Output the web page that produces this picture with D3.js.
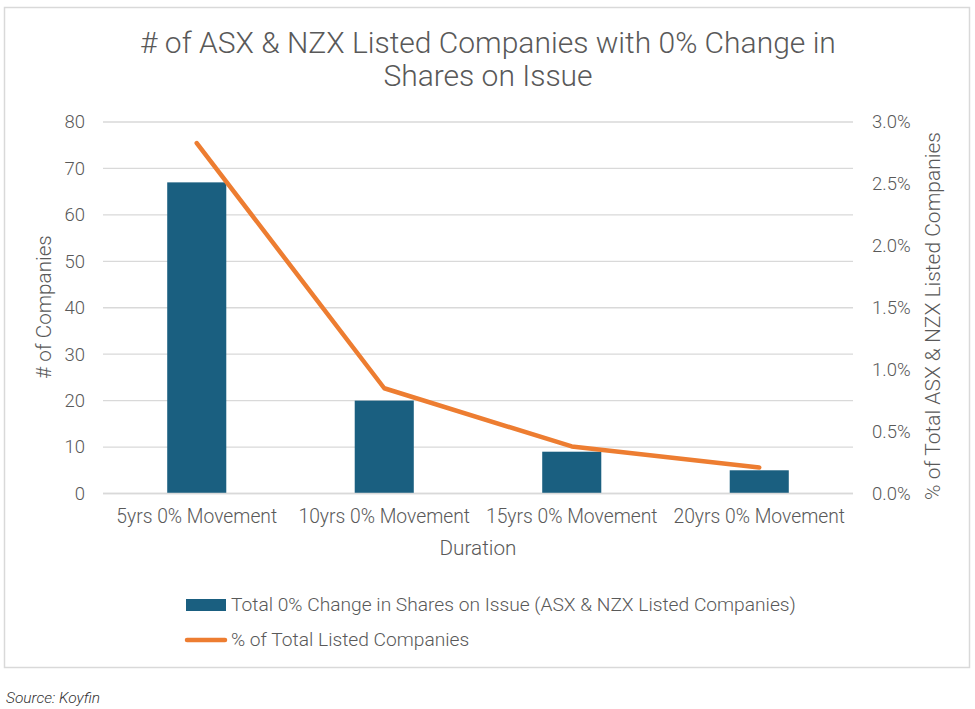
<!DOCTYPE html>
<html><head><meta charset="utf-8">
<script src="https://cdn.jsdelivr.net/npm/d3@7"></script>
<style>body{margin:0;background:#fff}svg{display:block}text{font-family:Roboto,"Open Sans",sans-serif;font-weight:300}</style>
</head><body><svg id="c" width="975" height="709"></svg>
<script>
const categories = ["5yrs 0% Movement","10yrs 0% Movement","15yrs 0% Movement","20yrs 0% Movement"];
const companyCounts = [67, 20, 9, 5];
const pctOfTotal = [0.0283, 0.0085, 0.0038, 0.0021];
const leftTicks = [0,10,20,30,40,50,60,70,80];
const rightTicks = [0,0.005,0.01,0.015,0.02,0.025,0.03];
const titleLines = ["# of ASX & NZX Listed Companies with 0% Change in","Shares on Issue"];
const legendLabels = ["Total 0% Change in Shares on Issue (ASX & NZX Listed Companies)","% of Total Listed Companies"];

const svg = d3.select("#c");
const txt = "#595959", grid = "#d9d9d9", blue = "#1a5f80", orange = "#ed7d31";
const L = 103, R = 853, T = 122, B = 493.5;

svg.append("rect").attr("x",4.5).attr("y",7.5).attr("width",965).attr("height",660)
  .attr("fill","#fff").attr("stroke",grid).attr("stroke-width",1.5);

const x = d3.scaleBand().domain(categories).range([L,R]).paddingInner(0.685).paddingOuter(0.3425);
const y = d3.scaleLinear().domain([0,80]).range([B,T]);
const y2 = d3.scaleLinear().domain([0,0.03]).range([B,T]);

function styleText(g, size){
  g.selectAll("text").attr("fill",txt).attr("font-size",size)
    .style("font-family","Roboto").style("font-weight",300);
}

// gridlines
svg.append("g").selectAll("line").data(leftTicks).join("line")
  .attr("x1",L).attr("x2",R).attr("y1",d=>y(d)).attr("y2",d=>y(d))
  .attr("stroke",grid).attr("stroke-width",1.3);

// left axis
const ga = svg.append("g").attr("transform",`translate(${L},0)`)
  .call(d3.axisLeft(y).tickValues(leftTicks).tickSize(0).tickPadding(18));
ga.select(".domain").remove();
styleText(ga, 18.5);

// right axis
const gr = svg.append("g").attr("transform",`translate(${R},0)`)
  .call(d3.axisRight(y2).tickValues(rightTicks).tickFormat(d3.format(".1%")).tickSize(0).tickPadding(19));
gr.select(".domain").remove();
styleText(gr, 18.5);

// bars
svg.append("g").selectAll("rect").data(companyCounts).join("rect")
  .attr("x",(d,i)=>x(categories[i])).attr("width",x.bandwidth())
  .attr("y",d=>y(d)).attr("height",d=>B-y(d)).attr("fill",blue);

// x axis line
svg.append("line").attr("x1",L).attr("x2",R).attr("y1",B).attr("y2",B).attr("stroke",grid).attr("stroke-width",1.3);

// x axis labels
const gx = svg.append("g").attr("transform",`translate(0,${B})`)
  .call(d3.axisBottom(x).tickSize(0).tickPadding(16));
gx.select(".domain").remove();
styleText(gx, 19.3);

// line
const line = d3.line().x((d,i)=>x(categories[i])+x.bandwidth()/2).y(d=>y2(d));
svg.append("path").datum(pctOfTotal).attr("d",line).attr("fill","none")
  .attr("stroke",orange).attr("stroke-width",4.5).attr("stroke-linecap","round").attr("stroke-linejoin","round");

// titles
svg.append("text").attr("x",488).attr("text-anchor","middle").attr("fill",txt)
  .attr("font-size",30)
  .selectAll("tspan").data(titleLines).join("tspan")
  .attr("x",488).attr("y",(d,i)=>53+i*33).text(d=>d);

svg.append("text").attr("transform","translate(51,307) rotate(-90)").attr("text-anchor","middle")
  .attr("fill",txt).attr("font-size",20.7).text("# of Companies");
svg.append("text").attr("transform","translate(940,316) rotate(-90)").attr("text-anchor","middle")
  .attr("fill",txt).attr("font-size",21).text("% of Total ASX & NZX Listed Companies");
svg.append("text").attr("x",478).attr("y",555).attr("text-anchor","middle")
  .attr("fill",txt).attr("font-size",20.7).text("Duration");

// legend
const lg = svg.append("g");
lg.append("rect").attr("x",186).attr("y",599).attr("width",40).attr("height",12).attr("fill",blue);
lg.append("line").attr("x1",187).attr("x2",225).attr("y1",640).attr("y2",640)
  .attr("stroke",orange).attr("stroke-width",4.5).attr("stroke-linecap","round");
lg.selectAll("text").data(legendLabels).join("text")
  .attr("x",231).attr("y",(d,i)=>611+i*35).attr("fill",txt).attr("font-size",19.2).text(d=>d);

svg.append("text").attr("x",6).attr("y",703).attr("fill","#333").attr("font-size",15.5)
  .style("font-family","Roboto").style("font-weight",300)
  .attr("font-style","italic").text("Source: Koyfin");
</script></body></html>
